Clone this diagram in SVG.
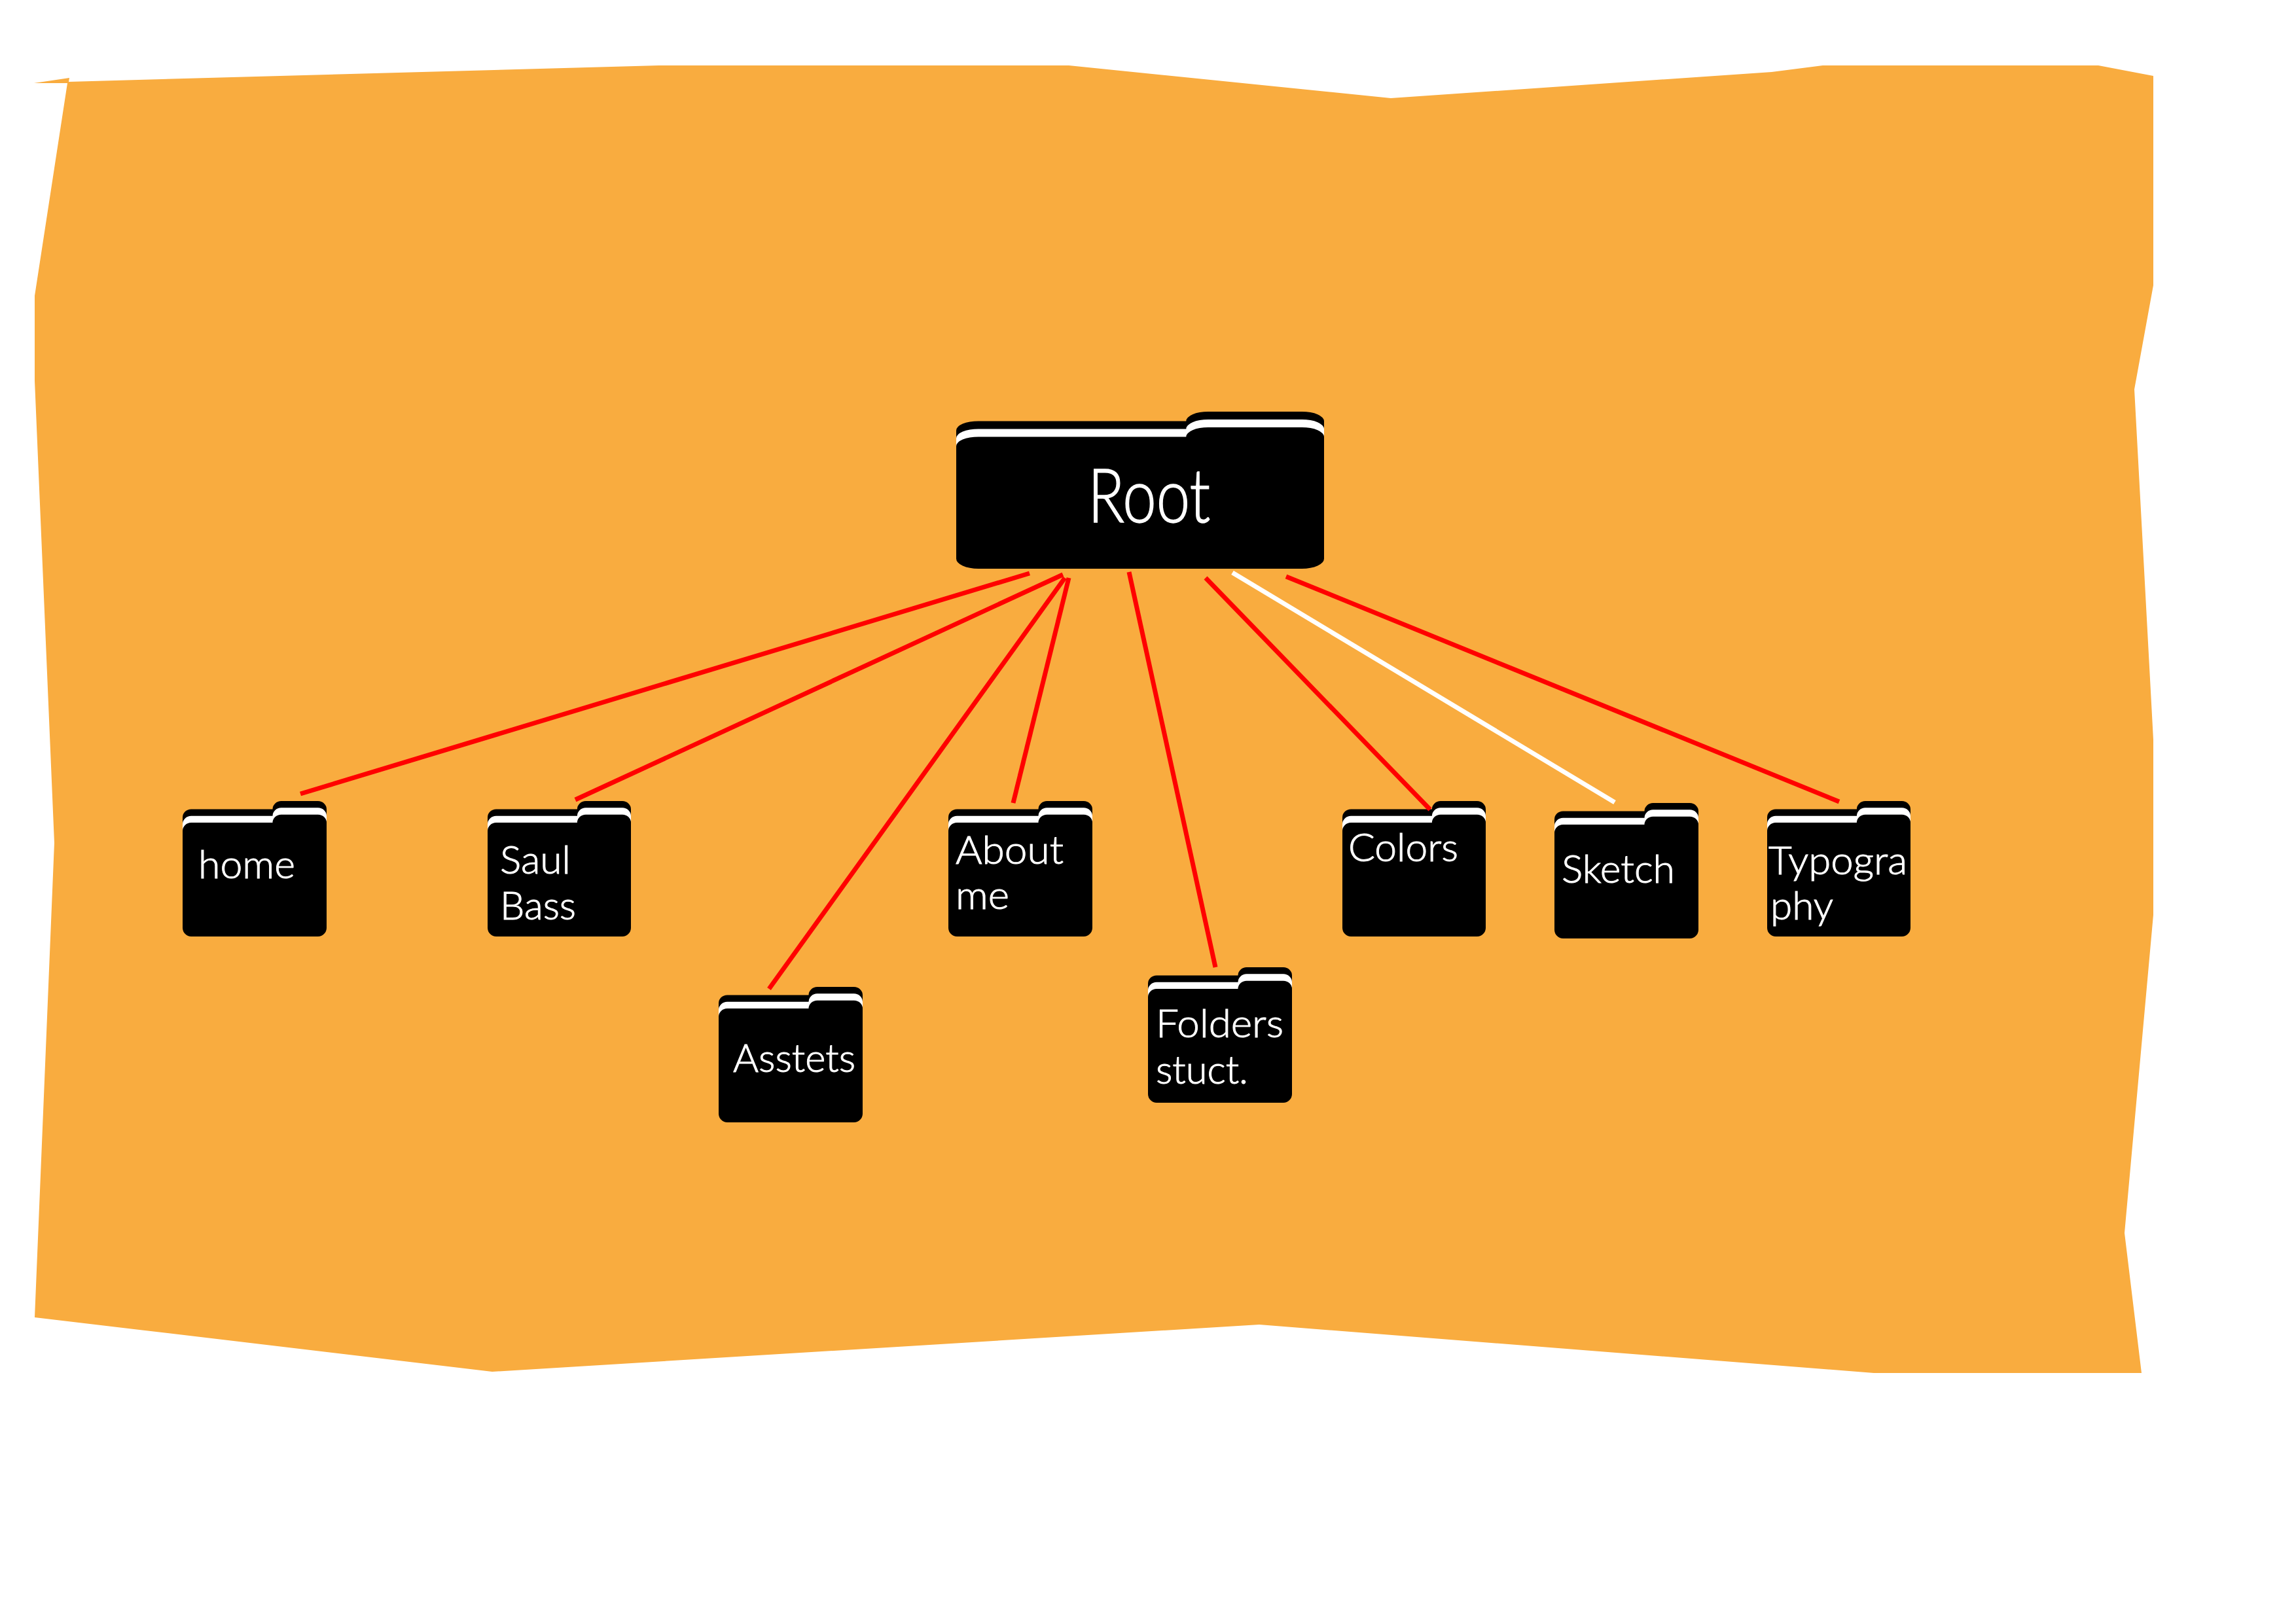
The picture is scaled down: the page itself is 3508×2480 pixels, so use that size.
<svg xmlns="http://www.w3.org/2000/svg" xmlns:xlink="http://www.w3.org/1999/xlink" width="3508" height="2480" viewBox="0 0 3508 2480">
<style>
.lbl{font-family:"Lato","Open Sans","Liberation Sans",sans-serif;fill:#fff;stroke:#fff;stroke-width:1;font-size:60px;font-weight:300}
.c{stroke:#f00;stroke-width:7;fill:none}
.w{stroke:#fff}
</style>
<defs>
<symbol id="folder" viewBox="0 0 100 100" preserveAspectRatio="none">
<path fill="#000" d="M0 12A6 6 0 0 1 6 6H62.5A6 6 0 0 1 68.5 0H94A6 6 0 0 1 100 6V30H0Z"/>
<path fill="#fff" d="M0 17A6 6 0 0 1 6 11H62.5A6 6 0 0 1 68.5 5H94A6 6 0 0 1 100 11V30H0Z"/>
<path fill="#000" d="M0 22A6 6 0 0 1 6 16H62.5A6 6 0 0 1 68.5 10H94A6 6 0 0 1 100 16V93.6A6 6.4 0 0 1 94 100H6A6 6.4 0 0 1 0 93.6Z"/>
</symbol>
</defs>
<rect width="3508" height="2480" fill="#fff"/>
<path id="background" fill="#f9ac3f" d="M52 127L106 119L105 125L1007 100H1633L2125 150L2707 110L2785 100H3206L3290 116V436L3261 595L3290 1130V1398L3246 1884L3272 2098H2863L1924 2024L752 2096L53 2013L83 1288L53 582V452L103 127Z"/>
<g id="connectors">
<line class="c" x1="1573" y1="876" x2="459" y2="1213"/>
<line class="c" x1="1624" y1="878" x2="879" y2="1222"/>
<line class="c" x1="1627" y1="883" x2="1175" y2="1511"/>
<line class="c" x1="1633" y1="883" x2="1548" y2="1227"/>
<line class="c" x1="1725" y1="874" x2="1857" y2="1478"/>
<line class="c w" x1="1883" y1="875" x2="2467" y2="1226"/>
<line class="c" x1="1965" y1="881" x2="2810" y2="1225"/>
</g>
<g id="root"><use xlink:href="#folder" href="#folder" x="1461" y="629" width="562" height="240"/>
<text class="lbl" x="1662" y="798" style="font-size:115px;stroke-width:1.5" textLength="187" lengthAdjust="spacingAndGlyphs">Root</text></g>
<g id="home"><use href="#folder" x="279" y="1224" width="220" height="207"/>
<text class="lbl" x="303" y="1342" textLength="148" lengthAdjust="spacingAndGlyphs">home</text></g>
<g id="saul-bass"><use href="#folder" x="745" y="1224" width="219" height="207"/>
<text class="lbl" x="764" y="1335" textLength="108" lengthAdjust="spacingAndGlyphs">Saul</text>
<text class="lbl" x="764" y="1405" textLength="116" lengthAdjust="spacingAndGlyphs">Bass</text></g>
<g id="asstets"><use href="#folder" x="1098" y="1508" width="220" height="207"/>
<text class="lbl" x="1120" y="1638" textLength="187" lengthAdjust="spacingAndGlyphs">Asstets</text></g>
<g id="about-me"><use href="#folder" x="1449" y="1224" width="220" height="207"/>
<text class="lbl" x="1460" y="1320" textLength="165" lengthAdjust="spacingAndGlyphs">About</text>
<text class="lbl" x="1460" y="1389" textLength="82" lengthAdjust="spacingAndGlyphs">me</text></g>
<g id="folders-stuct"><use href="#folder" x="1754" y="1478" width="220" height="207"/>
<text class="lbl" x="1766" y="1585" textLength="195" lengthAdjust="spacingAndGlyphs">Folders</text>
<text class="lbl" x="1766" y="1656" textLength="141" lengthAdjust="spacingAndGlyphs">stuct.</text></g>
<g id="colors"><use href="#folder" x="2051" y="1224" width="219" height="207"/>
<text class="lbl" x="2060" y="1316" textLength="168" lengthAdjust="spacingAndGlyphs">Colors</text></g>
<g id="sketch"><use href="#folder" x="2375" y="1227" width="220" height="207"/>
<text class="lbl" x="2386" y="1349" textLength="173" lengthAdjust="spacingAndGlyphs">Sketch</text></g>
<g id="typography"><use href="#folder" x="2700" y="1224" width="219" height="207"/>
<text class="lbl" x="2702" y="1336" textLength="212" lengthAdjust="spacingAndGlyphs">Typogra</text>
<text class="lbl" x="2705" y="1405" textLength="96" lengthAdjust="spacingAndGlyphs">phy</text></g>
<line id="connector-colors" class="c" x1="1842" y1="883" x2="2185" y2="1237"/>
</svg>
